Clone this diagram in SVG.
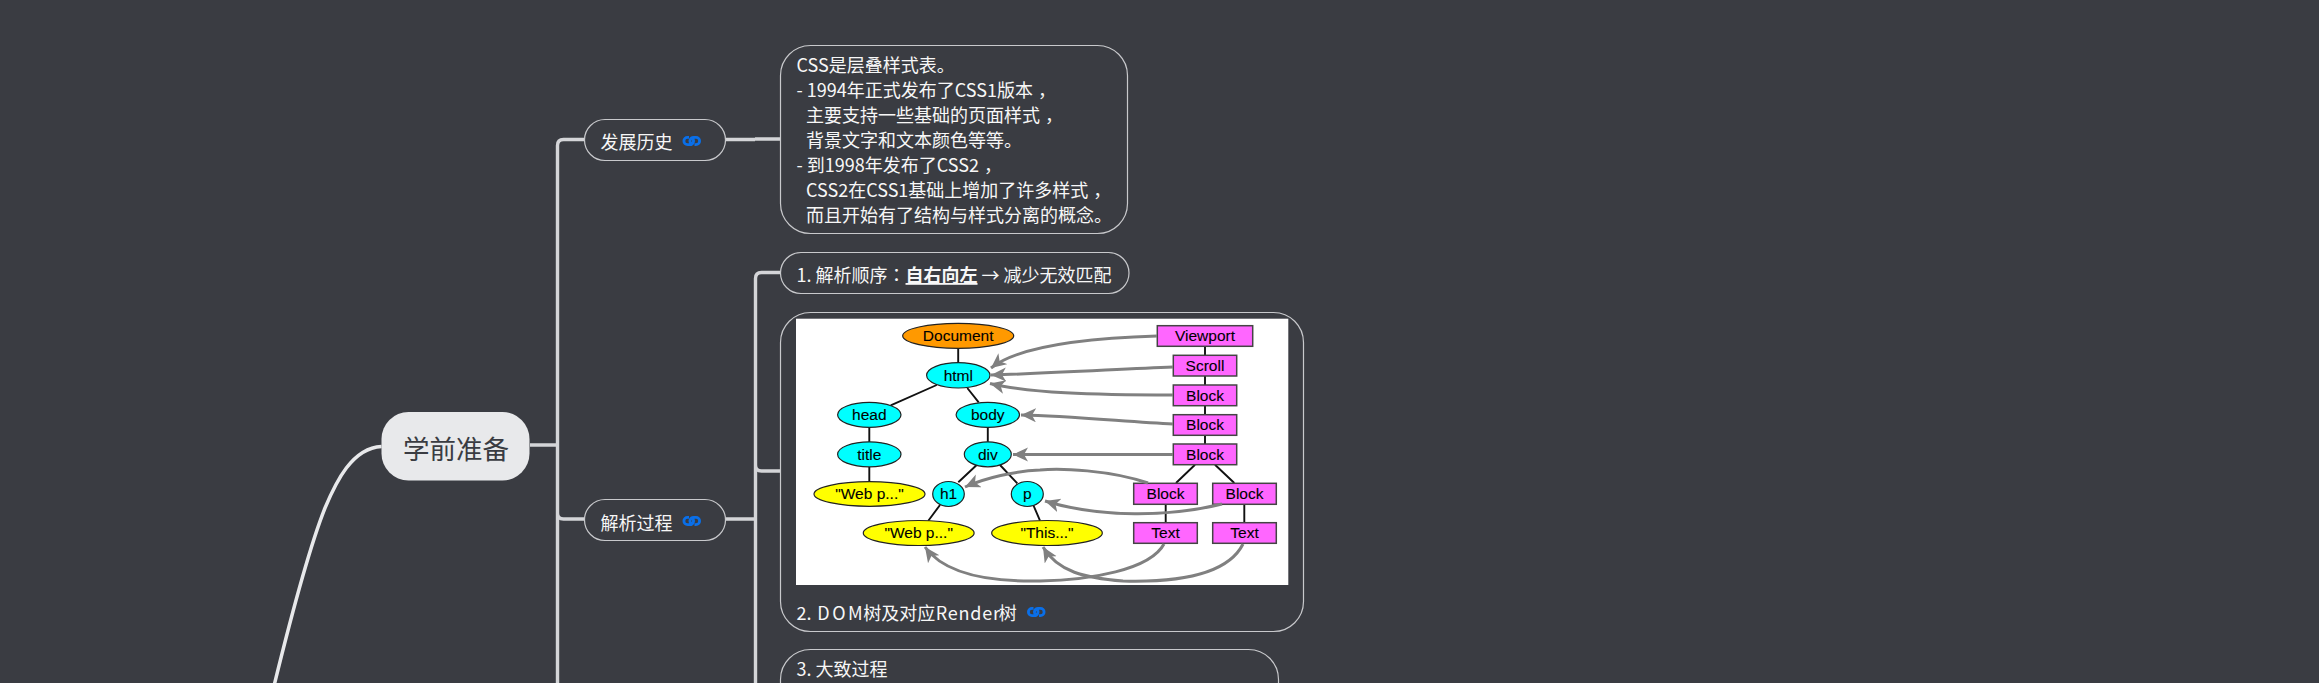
<svg xmlns="http://www.w3.org/2000/svg" width="2319" height="683" viewBox="0 0 2319 683">
<style>
.bg{fill:#3a3c42}
.c{fill:none;stroke:#d4d5d8;stroke-width:3.4}
.n{fill:#3a3c42;stroke:#c8c9cc;stroke-width:1.2}
.t{font-family:"Noto Sans CJK SC","Noto Sans",sans-serif;font-size:18px;fill:#f7f7f7}
.p{font-family:"Noto Sans CJK TC","Noto Sans",sans-serif}
.icon{fill:none;stroke:#0a6fe8;stroke-width:2.8}
.e{stroke:#111;stroke-width:1.9;fill:none}
.g{stroke:#808080;stroke-width:3;fill:none;marker-end:url(#ah)}
.o{stroke:#222;stroke-width:1.2}
.r{fill:#ff66ff;stroke:#444;stroke-width:1.5}
.l{font-family:"Liberation Sans",Arial,sans-serif;font-size:15.5px;fill:#000;stroke:#000;stroke-width:.1;text-anchor:middle}
</style>
<defs>
<marker id="ah" markerUnits="userSpaceOnUse" markerWidth="18" markerHeight="16" refX="15" refY="7" orient="auto">
<path d="M0 0L15 7L0 14L4 7Z" fill="#808080"/>
</marker>
<g id="lk"><path class="icon" d="M6.500 1.400H5A3.600 3.600 0 0 0 5 8.600H7.500A3.600 3.600 0 0 0 10 2.500M12 8.600H13.500A3.600 3.600 0 0 0 13.500 1.400H11A3.600 3.600 0 0 0 8.500 7.500"/></g>
</defs>
<rect class="bg" width="2319" height="683"/>
<g id="connectors">
<path d="M381.500 446.500C352 448 336 482 325 508C311 543 293 608 273 690" fill="none" stroke="#e8e9eb" stroke-width="3.500"/>
<path class="c" d="M530 445H557.500M584 139.500H563.500Q557.500 139.500 557.500 145.500V690M557.500 513Q557.500 519 563.500 519H584"/>
<path class="c" d="M725.500 139.500H755M755 139H780M725.500 519H755.500M780 272.500H761.500Q755.500 272.500 755.500 278.500V690M755.500 465Q755.500 471 761.500 471H780"/>
</g>
<g id="n-root"><rect x="381.500" y="412" width="148" height="68.500" rx="27" fill="#e8e9eb"/><text x="456" y="458.500" text-anchor="middle" style="font-family:'Noto Sans CJK SC',sans-serif;font-size:26.500px;fill:#3a3c42">学前准备</text></g>
<g id="n-history"><rect class="n" x="584.500" y="119.500" width="141" height="41" rx="20.500"/><text class="t" x="600.500" y="149">发展历史</text><use href="#lk" x="682.500" y="136"/></g>
<g id="n-css"><rect class="n" x="780.500" y="45.500" width="347" height="188" rx="30"/>
<text class="t"><tspan x="796.500" y="72">CSS是层叠样式表。</tspan><tspan x="796.500" y="97">- 1994年正式发布了CSS1版本<tspan dx="5">，</tspan></tspan><tspan x="806" y="122">主要支持一些基础的页面样式<tspan dx="5">，</tspan></tspan><tspan x="806" y="147">背景文字和文本颜色等等。</tspan><tspan x="796.500" y="172">- 到1998年发布了CSS2<tspan dx="5">，</tspan></tspan><tspan x="806" y="197">CSS2在CSS1基础上增加了许多样式<tspan dx="5">，</tspan></tspan><tspan x="806" y="222">而且开始有了结构与样式分离的概念。</tspan></text></g>
<g id="n-parse"><rect class="n" x="584.500" y="499.500" width="141" height="41" rx="20.500"/><text class="t" x="600.500" y="529.500">解析过程</text><use href="#lk" x="682.500" y="516"/></g>
<g id="n-order"><rect class="n" x="780.500" y="252.500" width="348.500" height="41" rx="20.500"/><text class="t" x="796.500" y="282">1. 解析顺序<tspan class="p">：</tspan><tspan font-weight="700" text-decoration="underline">自右向左</tspan> → 减少无效匹配</text></g>
<g id="n-dom"><rect class="n" x="780.500" y="312.500" width="523" height="319" rx="30"/>
<rect x="796" y="318.700" width="492.300" height="266.300" fill="#fff"/>
<g id="dom-edges">
<path class="e" d="M958.200 348V363M936.700 385L890.700 405.300M967.300 388L978.700 402.300M869.300 427V442M869.300 466.700V482M987.800 427V442M976.700 465L958.300 482.300M1000 465L1017.300 483.300M940 505L928.300 520.700M1033.300 505L1040 520.700M1205 346V355.500M1205 376V385M1205 405.500V414.700M1205 435V444M1195 464.700L1176 483M1215 464.700L1234.300 483M1165.700 504V522.700M1244.300 504V522.700"/>
</g>
<g id="dom-ovals">
<ellipse class="o" cx="958.200" cy="335.800" rx="55.500" ry="12.500" fill="#ff9900"/>
<g fill="#00ffff"><ellipse class="o" cx="958.300" cy="375.300" rx="31.700" ry="12.700"/><ellipse class="o" cx="869.300" cy="414.800" rx="31.700" ry="12.500"/><ellipse class="o" cx="987.800" cy="414.800" rx="31.700" ry="12.500"/><ellipse class="o" cx="869.300" cy="454.300" rx="31.700" ry="12.500"/><ellipse class="o" cx="987.800" cy="454.300" rx="23.500" ry="12.500"/><ellipse class="o" cx="948.500" cy="494" rx="15.800" ry="12.500"/><ellipse class="o" cx="1027.300" cy="494" rx="16" ry="12.500"/></g>
<g fill="#ffff00"><ellipse class="o" cx="869.500" cy="494" rx="55.500" ry="12.300"/><ellipse class="o" cx="918.700" cy="533" rx="55.400" ry="12.500"/><ellipse class="o" cx="1047" cy="533" rx="55.300" ry="12.500"/></g>
</g>
<g id="dom-rects">
<rect class="r" x="1157.300" y="325.700" width="95.400" height="20.600"/><rect class="r" x="1173.300" y="355.300" width="63.400" height="20.700"/><rect class="r" x="1173.300" y="385" width="63.400" height="20.700"/><rect class="r" x="1173.300" y="414.700" width="63.400" height="20.600"/><rect class="r" x="1173.300" y="444" width="63.400" height="20.700"/><rect class="r" x="1133.700" y="483.300" width="63.600" height="21"/><rect class="r" x="1212.700" y="483.300" width="63.600" height="21"/><rect class="r" x="1133.700" y="522.700" width="63.600" height="20.600"/><rect class="r" x="1212.700" y="522.700" width="63.600" height="20.600"/>
</g>
<g id="dom-arrows">
<path class="g" d="M1157 336C1090 338 1020 345 991 368"/>
<path class="g" d="M1173 367C1120 369 1060 373 991 375"/>
<path class="g" d="M1173 395C1090 395 1030 393 990 383.500"/>
<path class="g" d="M1173 424C1130 422 1070 416 1021 415"/>
<path class="g" d="M1173 454.500H1013"/>
<path class="g" d="M1148 483C1110 470 1060 468 1040 470C1015 471 985 478 965 487"/>
<path class="g" d="M1222 504C1170 517 1100 518 1045 501"/>
<path class="g" d="M1164 544C1150 570 1090 580 1040 581C990 582 945 575 925 547"/>
<path class="g" d="M1243 544C1225 580 1160 582 1123 581C1085 578 1058 572 1043 547"/>
</g>
<g id="dom-labels">
<text class="l" x="958.200" y="341">Document</text><text class="l" x="958.300" y="380.500">html</text><text class="l" x="869.300" y="420">head</text><text class="l" x="987.800" y="420">body</text><text class="l" x="869.300" y="459.500">title</text><text class="l" x="987.800" y="459.500">div</text><text class="l" x="869.500" y="499">"Web p..."</text><text class="l" x="948.500" y="499">h1</text><text class="l" x="1027.300" y="499">p</text><text class="l" x="918.700" y="538">"Web p..."</text><text class="l" x="1047" y="538">"This..."</text>
<text class="l" x="1205" y="341">Viewport</text><text class="l" x="1205" y="371">Scroll</text><text class="l" x="1205" y="400.500">Block</text><text class="l" x="1205" y="430">Block</text><text class="l" x="1205" y="459.500">Block</text><text class="l" x="1165.500" y="499">Block</text><text class="l" x="1244.500" y="499">Block</text><text class="l" x="1165.500" y="538">Text</text><text class="l" x="1244.500" y="538">Text</text>
</g>
<text class="t" y="620"><tspan x="796.500">2.</tspan><tspan x="817.300" letter-spacing="2.500">DOM</tspan><tspan x="863.300">树及对应</tspan><tspan x="935.700" letter-spacing=".8">Render</tspan><tspan x="998.700">树</tspan></text><use href="#lk" x="1027" y="607"/></g>
<g id="n-steps"><rect class="n" x="780.500" y="649.500" width="498" height="120" rx="30"/><text class="t" x="796.500" y="676">3. 大致过程</text></g>
</svg>
